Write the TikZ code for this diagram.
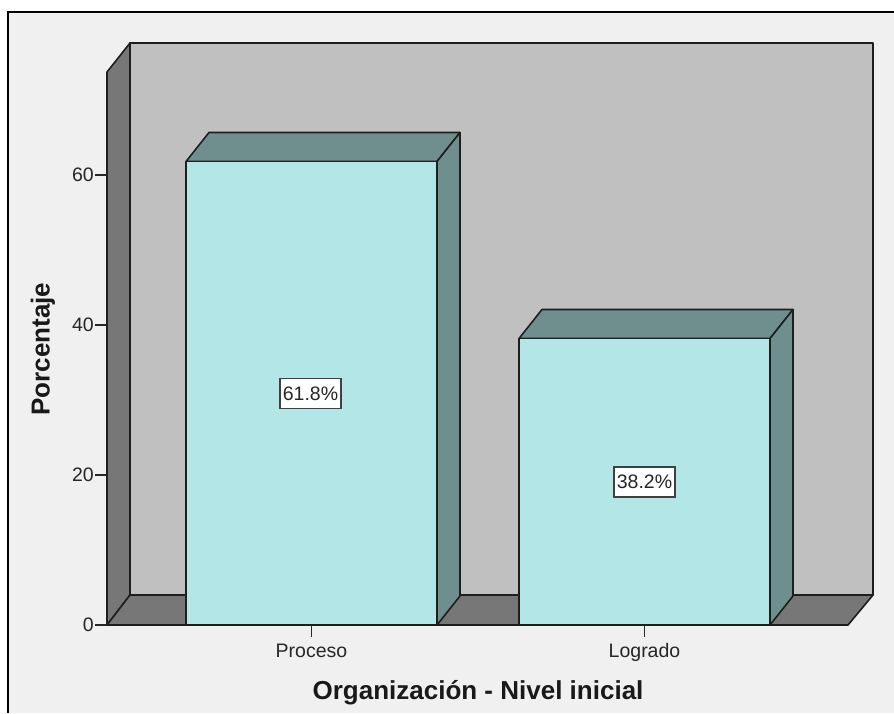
\documentclass[tikz,border=0pt]{standalone}
\usepackage{fontspec}
\setmainfont{Liberation Sans}
\definecolor{bgc}{HTML}{F0F0F0}
\definecolor{wallc}{HTML}{C0C0C0}
\definecolor{sidec}{HTML}{777777}
\definecolor{barfront}{HTML}{B3E6E6}
\definecolor{bartop}{HTML}{6F8F8F}
\definecolor{edgec}{HTML}{1E1E1E}
\newcommand{\depthx}{23}
\newcommand{\depthy}{29}
\newcommand{\mybar}[3]{%
  % #1 left, #2 right, #3 top (front)
  \filldraw[bartop,edge] (#1,#3) -- (#1+\depthx,#3-\depthy) -- (#2+\depthx,#3-\depthy) -- (#2,#3) -- cycle;
  \filldraw[bartop,edge] (#2,625) -- (#2,#3) -- (#2+\depthx,#3-\depthy) -- (#2+\depthx,625-\depthy) -- cycle;
  \filldraw[barfront,edge] (#1,625) rectangle (#2,#3);
}
\begin{document}
\begin{tikzpicture}[x=1pt,y=-1pt,
  edge/.style={draw=edgec,line width=1.6pt,line join=round},
  ticklbl/.style={font=\fontsize{19.5}{22}\selectfont,text=black!85,inner sep=1pt},
  titlelbl/.style={font=\fontsize{26}{28}\selectfont\bfseries,text=black!90,inner sep=0pt},
  valbox/.style={draw=black!75,fill=white,line width=1.4pt,font=\fontsize{19.5}{22}\selectfont,text=black!85,inner xsep=3pt,inner ysep=0pt,minimum height=30pt},
  tickline/.style={draw=black!85,line width=1.4pt}]
\useasboundingbox (0,0) rectangle (894,713);
\fill[white] (0,0) rectangle (894,713);
\fill[bgc] (8,12) rectangle (894,713);
\draw[line width=2pt] (8,713) -- (8,12) -- (894,12);
% back wall
\filldraw[wallc,edge] (130,595) rectangle (873,43);
% left wall
\filldraw[sidec,edge] (107,625) -- (107,72) -- (130,43) -- (130,595) -- cycle;
% floor
\filldraw[sidec,edge] (107,625) -- (130,595) -- (873,595) -- (848,625) -- cycle;
% bars
\mybar{186}{437}{161.5}
\mybar{519}{770}{338.5}
% y ticks
\foreach \v/\nm in {0/a,20/b,40/c,60/d}{
  \coordinate (yt\nm) at (95,625-7.5*\v);
  \draw[tickline] (yt\nm) -- ++(12,0);
  \node[ticklbl,anchor=east] (yl\nm) at (yt\nm) {\v};
}
% x ticks
\coordinate (xt1) at (311.5,625);
\coordinate (xt2) at (644.5,625);
\draw[tickline] (xt1) -- ++(0,12);
\draw[tickline] (xt2) -- ++(0,12);
\node[ticklbl,anchor=base] (xl1) at (311.5,657) {Proceso};
\node[ticklbl,anchor=base] (xl2) at (644.5,657) {Logrado};
% titles
\node[titlelbl,anchor=base] (xtitle) at (478,699) {Organización - Nivel inicial};
\node[titlelbl,rotate=90] (ytitle) at (43,349) {Porcentaje};
% value labels
\node[valbox] (v1) at (310.5,393.5) {61.8\%};
\node[valbox] (v2) at (644.5,482) {38.2\%};
\end{tikzpicture}
\end{document}
